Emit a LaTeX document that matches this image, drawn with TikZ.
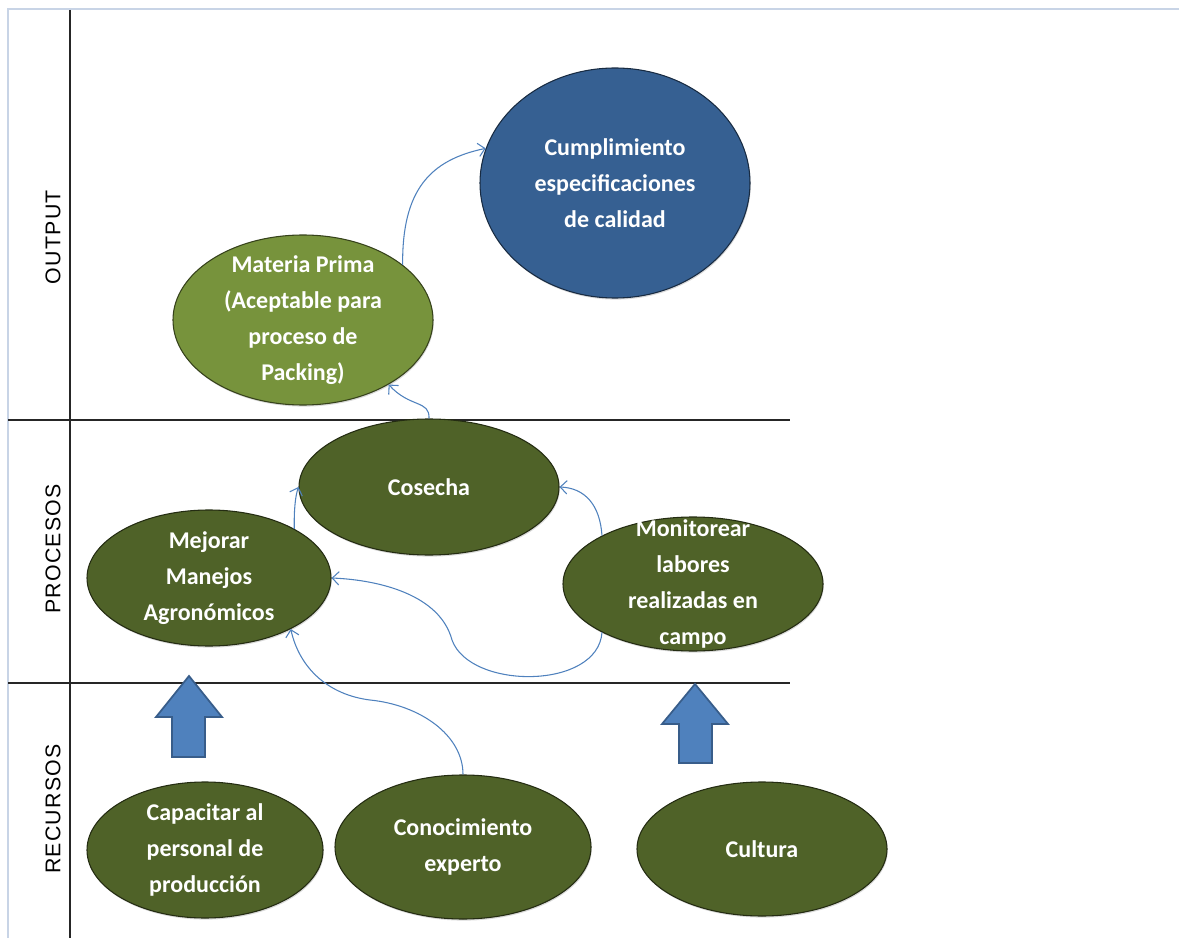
\documentclass[tikz,border=0pt]{standalone}
\usepackage{fontspec}
\setmainfont{Carlito}
\newfontfamily\sidefont[LetterSpace=6]{Liberation Sans}
\usepackage{tikz}
\usetikzlibrary{shapes.geometric, arrows.meta, shadows}

\definecolor{dkgreen}{RGB}{79,98,40}
\definecolor{ltgreen}{RGB}{119,147,60}
\definecolor{dkblue}{RGB}{54,96,146}
\definecolor{linkblue}{RGB}{79,129,189}
\definecolor{edgeblue}{RGB}{56,93,138}
\definecolor{framegray}{RGB}{200,212,230}

\tikzset{
  rad/.style 2 args={minimum width=#1*1.5pt, minimum height=#2*1.5pt},
  bubble/.style={ellipse, inner sep=0pt, draw=black!55!#1, line width=0.8pt, fill=#1,
    drop shadow={shadow xshift=0.6pt, shadow yshift=-1.2pt, opacity=0.3}},
  txt/.style={text=white, font=\bfseries\fontsize{18}{27}\selectfont, align=center, inner sep=0.75pt},
  side/.style={rotate=90, font=\sidefont\fontsize{16}{19}\selectfont},
  link/.style={draw=linkblue, line width=0.8pt, -{Straight Barb[length=5pt, width=10pt]}},
  bigarrow/.style={draw=edgeblue, line width=1.3pt, fill=linkblue, line join=miter}
}

\begin{document}
\begin{tikzpicture}[x=0.75pt,y=0.75pt,yscale=-1,xscale=1]
\useasboundingbox (0,0) rectangle (1179,938);

%Frame
\draw [framegray, line width=1.5pt] (8,938) -- (8,9) -- (1179,9);
%Grid lines
\draw [black!85, line width=1.2pt] (70,10) -- (70,938);
\draw [black!85, line width=1.2pt] (8,420) -- (790,420);
\draw [black!85, line width=1.2pt] (8,683) -- (790,683);

% Side labels
\node [side] (lout) at (53,237) {OUTPUT};
\node [side] (lpro) at (53,549) {PROCESOS};
\node [side] (lrec) at (53,809) {RECURSOS};

%Shape: Ellipse
\node [bubble=dkblue, rad={135}{115}] (cu) at (615,183) {};
\node [bubble=ltgreen, rad={130}{85}] (mp) at (303,320) {};
\node [bubble=dkgreen, rad={130}{68}] (co) at (429,487) {};
\node [bubble=dkgreen, rad={122}{68}] (mej) at (209,578) {};
\node [bubble=dkgreen, rad={130}{67}] (mon) at (693,584) {};
\node [bubble=dkgreen, rad={118}{68}] (cap) at (205,850) {};
\node [bubble=dkgreen, rad={128}{72}] (con) at (463,847) {};
\node [bubble=dkgreen, rad={125}{67}] (cul) at (762,849) {};

% Text Node
\node [txt] (cu-t) at (cu) {Cumplimiento\\especificaciones\\de calidad};
\node [txt] (mp-t) at (mp) {Materia Prima\\(Aceptable para\\proceso de\\Packing)};
\node [txt] (co-t) at (co) {Cosecha};
\node [txt] (mej-t) at (mej) {Mejorar\\Manejos\\Agronómicos};
\node [txt] (mon-t) at (mon) {Monitorear\\labores\\realizadas en\\campo};
\node [txt] (cap-t) at (cap) {Capacitar al\\personal de\\producción};
\node [txt] (con-t) at (con) {Conocimiento\\experto};
\node [txt] (cul-t) at (cul) {Cultura};

%Connectors
\draw [link] (mp.29) .. controls (402,190) and (430,160) .. (cu.165);
\draw [link] (co.north) .. controls (430,400) and (410,408) .. (mp.-37);
\draw [link] (mej.30) .. controls (294,512) and (295,497) .. (co.west);
\draw [link] (mon.152) .. controls (600,505) and (585,488) .. (co.east);
\draw [link] (mon.208) .. controls (598,690) and (470,690) .. (452,640) .. controls (440,595) and (380,580) .. (mej.east);
\draw [link] (con.north) .. controls (463,735) and (420,705) .. (370,700) .. controls (330,695) and (300,670) .. (mej.-32);

%Shape: Up Arrow
\draw [bigarrow] (189,676) -- (222,717) -- (205,717) -- (205,757) -- (172,757) -- (172,717) -- (156,717) -- cycle;
\draw [bigarrow] (695,684) -- (728,724) -- (712,724) -- (712,763) -- (679,763) -- (679,724) -- (662,724) -- cycle;

\end{tikzpicture}
\end{document}
